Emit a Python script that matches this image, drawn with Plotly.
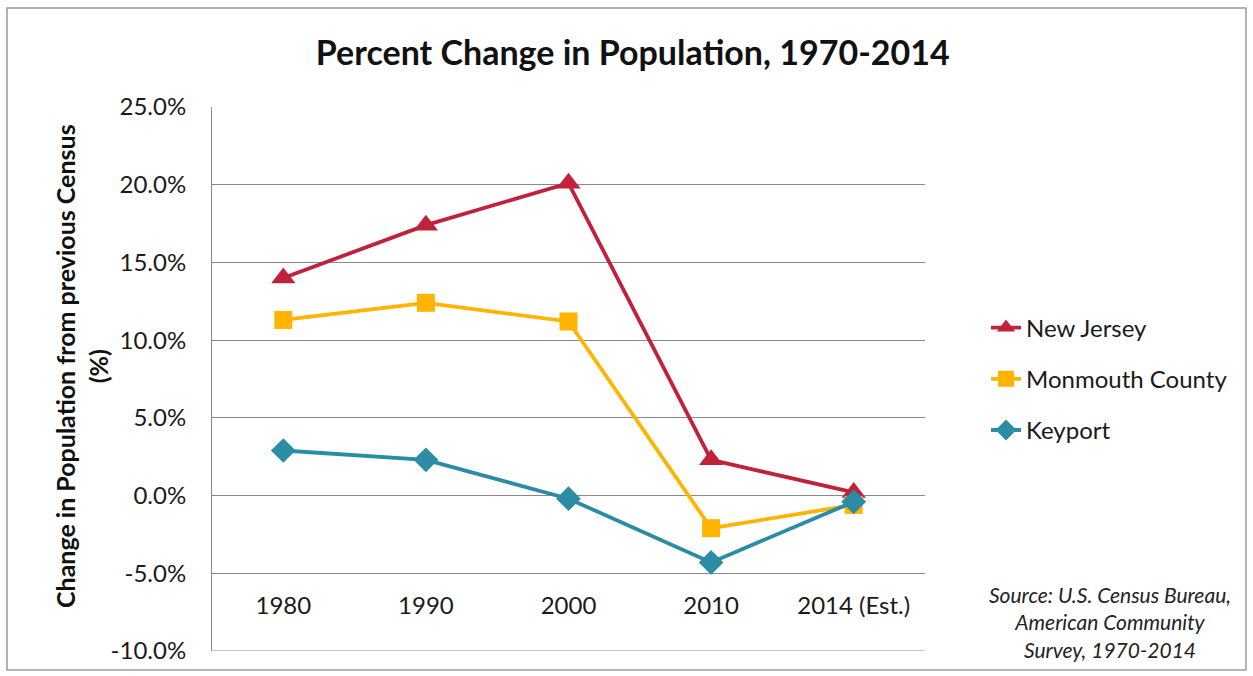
import plotly.graph_objects as go

# Census periods and percent change from the previous census
years = ["1980", "1990", "2000", "2010", "2014 (Est.)"]
new_jersey = [14.0, 17.4, 20.1, 2.3, 0.2]
monmouth = [11.3, 12.4, 11.2, -2.1, -0.6]
keyport = [2.9, 2.3, -0.2, -4.3, -0.4]

y_ticks = [-10, -5, 0, 5, 10, 15, 20, 25]
y_tick_text = [f"{v:.1f}%" for v in y_ticks]

FONT = "Lato"
GRID = "#8a8a8a"

fig = go.Figure()

series = [
    ("New Jersey", new_jersey, "#C0213B", "triangle-up", 21),
    ("Monmouth County", monmouth, "#FFB400", "square", 18),
    ("Keyport", keyport, "#2B8CA6", "diamond", 19),
]
for i, (name, vals, color, symbol, size) in enumerate(series):
    fig.add_trace(go.Scatter(
        x=years, y=vals, name=name, mode="lines+markers",
        line=dict(color=color, width=3.8),
        marker=dict(symbol=symbol, size=size, color=color),
        legendgroup=f"g{i}",
    ))

fig.update_layout(
    width=1253, height=676,
    margin=dict(l=212, r=328, t=107, b=25),
    paper_bgcolor="white", plot_bgcolor="white",
    font=dict(family=FONT, color="#1a1a1a"),
    title=dict(
        text="<b>Percent Change in Population, 1970-2014</b>",
        font=dict(family=FONT, size=34, color="#111"),
        x=0.505, xref="container", xanchor="center",
        y=1 - 53 / 676, yref="container", yanchor="middle",
    ),
    showlegend=True,
    legend=dict(
        x=(986 - 212) / 713, xanchor="left", y=0.5, yanchor="middle",
        font=dict(family=FONT, size=24, color="#1a1a1a"),
        tracegroupgap=17, traceorder="grouped",
        bgcolor="rgba(0,0,0,0)",
    ),
    xaxis=dict(
        type="category", range=[-0.5, 4.5],
        anchor="free", position=0.114,
        showline=False, showgrid=False, zeroline=False,
        ticks="", tickfont=dict(family=FONT, size=24, color="#1a1a1a"),
    ),
    yaxis=dict(
        range=[-10, 25], tickvals=y_ticks, ticktext=y_tick_text,
        showgrid=True, gridcolor=GRID, gridwidth=1,
        zeroline=False,
        showline=True, linecolor=GRID, linewidth=1,
        ticks="outside", ticklen=20, tickcolor="rgba(0,0,0,0)",
        tickfont=dict(family=FONT, size=24, color="#1a1a1a"),
    ),
)

# Bottom boundary line at the lowest tick
fig.add_shape(
    type="line", xref="paper", yref="y",
    x0=0, x1=1, y0=-10, y1=-10,
    line=dict(color=GRID, width=1), layer="below",
)

# Axis title for the vertical axis
fig.add_annotation(
    text="<b>Change in Population from previous Census<br>(%)</b>",
    textangle=-90, xref="paper", yref="paper",
    x=(81 - 212) / 713, y=(651 - 366) / 544,
    xanchor="center", yanchor="middle", showarrow=False,
    font=dict(family=FONT, size=25, color="#111"),
)

# Source note
fig.add_annotation(
    text="<i>Source: U.S. Census Bureau,<br>American Community<br>Survey, 1970-2014</i>",
    xref="paper", yref="paper",
    x=(1110 - 212) / 713, y=(651 - 622) / 544,
    xanchor="center", yanchor="middle", align="center", showarrow=False,
    font=dict(family=FONT, size=21, color="#222"),
)

# Outer chart border
fig.add_shape(
    type="rect", xref="paper", yref="paper",
    x0=(7 - 212) / 713, x1=(1246 - 212) / 713,
    y0=(651 - 670) / 544, y1=(651 - 8) / 544,
    line=dict(color="#9a9a9a", width=1.5), layer="below",
)

fig.write_html("out.html")
